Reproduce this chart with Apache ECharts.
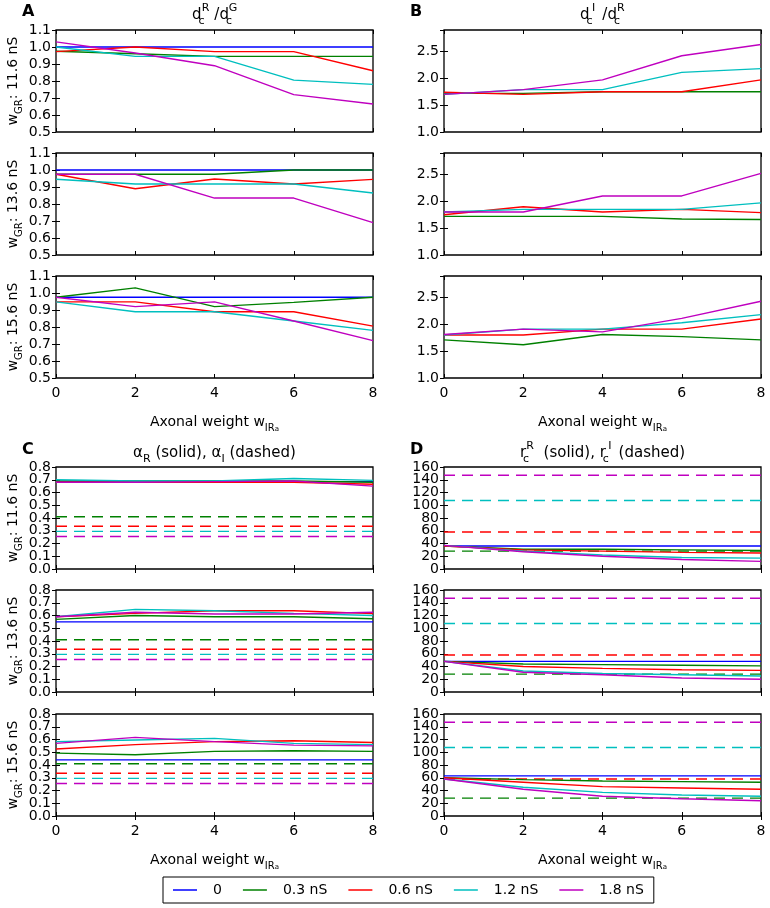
<!DOCTYPE html>
<html>
<head>
<meta charset="utf-8">
<script src="https://cdn.jsdelivr.net/npm/echarts@6/dist/echarts.min.js"></script>
<style>
  html, body { margin: 0; padding: 0; background: #fff; }
  #chart { width: 770px; height: 908px; }
</style>
</head>
<body>
<div id="chart"></div>
<script>
const FONT = '"DejaVu Sans", sans-serif';

const xs = [0, 2, 4, 6, 8];
const seriesNames = ['0', '0.3 nS', '0.6 nS', '1.2 nS', '1.8 nS'];
const seriesColors = ['#0000ff', '#008000', '#ff0000', '#00bfbf', '#bf00bf'];
const wGR = ['11.6', '13.6', '15.6'];

// A: d_c^R / d_c^G  (rows: 0, 0.3, 0.6, 1.2, 1.8 nS)
const dRG_116 = [
  [1.0, 1.0, 1.0, 1.0, 1.0],
  [0.975, 0.96, 0.945, 0.945, 0.945],
  [0.973, 1.0, 0.973, 0.973, 0.86],
  [1.0, 0.945, 0.945, 0.805, 0.78],
  [1.03, 0.965, 0.89, 0.72, 0.665]
];
const dRG_136 = [
  [1.0, 1.0, 1.0, 1.0, 1.0],
  [0.975, 0.975, 0.975, 1.0, 1.0],
  [0.975, 0.89, 0.947, 0.918, 0.945],
  [0.946, 0.918, 0.918, 0.918, 0.865],
  [0.975, 0.975, 0.835, 0.835, 0.69]
];
const dRG_156 = [
  [0.975, 0.975, 0.975, 0.975, 0.975],
  [0.975, 1.03, 0.92, 0.945, 0.975],
  [0.948, 0.948, 0.89, 0.89, 0.805],
  [0.948, 0.89, 0.89, 0.835, 0.78],
  [0.975, 0.92, 0.948, 0.835, 0.72]
];

// B: d_c^I / d_c^R  (no curve for w = 0)
const dIR_116 = [
  null,
  [1.72, 1.72, 1.75, 1.75, 1.75],
  [1.74, 1.70, 1.75, 1.75, 1.97],
  [1.70, 1.79, 1.79, 2.11, 2.18],
  [1.70, 1.79, 1.97, 2.42, 2.63]
];
const dIR_136 = [
  null,
  [1.72, 1.72, 1.72, 1.67, 1.66],
  [1.75, 1.90, 1.80, 1.85, 1.79],
  [1.80, 1.85, 1.85, 1.85, 1.97],
  [1.80, 1.80, 2.10, 2.10, 2.52]
];
const dIR_156 = [
  null,
  [1.71, 1.62, 1.81, 1.77, 1.71],
  [1.80, 1.80, 1.91, 1.91, 2.10],
  [1.80, 1.91, 1.91, 2.03, 2.18],
  [1.81, 1.91, 1.86, 2.11, 2.43]
];

// C: alpha_R (solid) and alpha_I (dashed, same in every row)
const alphaR_116 = [
  [0.685, 0.685, 0.685, 0.685, 0.685],
  [0.69, 0.69, 0.69, 0.69, 0.68],
  [0.68, 0.68, 0.68, 0.68, 0.665],
  [0.70, 0.69, 0.69, 0.71, 0.695],
  [0.68, 0.68, 0.685, 0.69, 0.65]
];
const alphaR_136 = [
  [0.55, 0.55, 0.55, 0.55, 0.55],
  [0.57, 0.60, 0.59, 0.59, 0.575],
  [0.59, 0.617, 0.637, 0.637, 0.615],
  [0.59, 0.648, 0.637, 0.617, 0.60],
  [0.59, 0.625, 0.612, 0.612, 0.625]
];
const alphaR_156 = [
  [0.44, 0.44, 0.44, 0.44, 0.44],
  [0.493, 0.48, 0.507, 0.512, 0.507],
  [0.525, 0.56, 0.583, 0.59, 0.577],
  [0.583, 0.596, 0.609, 0.57, 0.56],
  [0.57, 0.617, 0.583, 0.556, 0.55]
];
const alphaI = [null, 0.41, 0.335, 0.295, 0.255];

// D: r_c^R (solid) and r_c^I (dashed, same in every row)
const rcR_116 = [
  [36, 36, 36, 36, 36],
  [36, 31, 31, 30, 29],
  [36, 30, 28, 26, 25],
  [37, 28, 22, 18, 17],
  [37, 27, 20, 15, 12]
];
const rcR_136 = [
  [48, 48, 48, 48, 48],
  [48, 44, 43, 42, 41],
  [48, 40, 37, 35, 34],
  [48, 33, 29, 27, 25],
  [48, 31, 27, 22, 20]
];
const rcR_156 = [
  [63, 63, 63, 63, 63],
  [60, 57, 55, 54, 53],
  [60, 53, 46, 44, 42],
  [58, 45, 37, 33, 31],
  [58, 42, 31, 27, 24]
];
const rcI = [null, 28, 58, 107.5, 147];

// layout
const colLeft = [56, 444];
const plotW = 317;
const plotH = 102;
const topRows = [30, 153, 276];
const bottomRows = [467, 590, 714];

const rich = {
  n: { fontSize: 14, fontFamily: FONT, color: '#000', lineHeight: 22 },
  sb: { fontSize: 10, fontFamily: FONT, color: '#000', lineHeight: 12, verticalAlign: 'bottom' },
  ssb: { fontSize: 7, fontFamily: FONT, color: '#000', lineHeight: 6, verticalAlign: 'bottom' }
};

const panels = [];
[dRG_116, dRG_136, dRG_156].forEach((d, r) => panels.push({
  left: colLeft[0], top: topRows[r], min: 0.5, max: 1.1, step: 0.1, dec: 1,
  solid: d, dashed: null, ylab: wGR[r], xlab: r === 2
}));
[dIR_116, dIR_136, dIR_156].forEach((d, r) => panels.push({
  left: colLeft[1], top: topRows[r], min: 1.0, max: 2.9, step: 0.5, dec: 1,
  solid: d, dashed: null, ylab: null, xlab: r === 2
}));
[alphaR_116, alphaR_136, alphaR_156].forEach((d, r) => panels.push({
  left: colLeft[0], top: bottomRows[r], min: 0, max: 0.8, step: 0.1, dec: 1,
  solid: d, dashed: alphaI, ylab: wGR[r], xlab: r === 2
}));
[rcR_116, rcR_136, rcR_156].forEach((d, r) => panels.push({
  left: colLeft[1], top: bottomRows[r], min: 0, max: 160, step: 20, dec: 0,
  solid: d, dashed: rcI, ylab: null, xlab: r === 2
}));

const grid = [], xAxis = [], yAxis = [], series = [];
const tickStyle = { show: true, inside: true, length: 4, lineStyle: { color: '#000', width: 1 } };
const labelFont = { fontFamily: FONT, fontSize: 14, color: '#000' };

panels.forEach((p, g) => {
  const isEnd = v => Math.abs(v - p.min) < 1e-9 || Math.abs(v - p.max) < 1e-9;
  grid.push({
    left: p.left, top: p.top, width: plotW, height: plotH,
    show: true, borderColor: '#000', borderWidth: 1.3, backgroundColor: 'transparent'
  });
  xAxis.push({
    type: 'value', gridIndex: g, position: 'bottom', min: 0, max: 8, interval: 2,
    axisLine: { show: false }, splitLine: { show: false }, axisTick: tickStyle,
    axisLabel: Object.assign({ show: p.xlab, margin: 8, showMinLabel: true, showMaxLabel: true }, labelFont),
    name: p.xlab ? '{n|Axonal weight w}{sb|IR}{ssb|a}' : '',
    nameLocation: 'middle', nameGap: 33,
    nameTextStyle: { rich: rich }
  });
  xAxis.push({
    type: 'value', gridIndex: g, position: 'top', min: 0, max: 8, interval: 2,
    axisLine: { show: false }, splitLine: { show: false }, axisTick: tickStyle,
    axisLabel: { show: false }
  });
  // left axis: inner tick labels
  yAxis.push({
    type: 'value', gridIndex: g, position: 'left', min: p.min, max: p.max, interval: p.step,
    axisLine: { show: false }, splitLine: { show: false }, axisTick: tickStyle,
    axisLabel: Object.assign({
      margin: 5, showMinLabel: false, showMaxLabel: false,
      formatter: v => isEnd(v) ? '' : v.toFixed(p.dec)
    }, labelFont),
    name: p.ylab ? '{n|w}{sb|GR}{n|: ' + p.ylab + ' nS}' : '',
    nameLocation: 'middle', nameRotate: 90, nameGap: 24,
    nameTextStyle: { rich: rich }
  });
  // right axis: ticks, plus the end labels drawn back on the left side
  yAxis.push({
    type: 'value', gridIndex: g, position: 'right', min: p.min, max: p.max, interval: p.step,
    axisLine: { show: false }, splitLine: { show: false }, axisTick: tickStyle,
    axisLabel: Object.assign({
      margin: -(plotW + 5), align: 'right', showMinLabel: true, showMaxLabel: true,
      formatter: v => (isEnd(v) && p.max !== 2.9) || Math.abs(v - p.min) < 1e-9 ? v.toFixed(p.dec) : ''
    }, labelFont)
  });
  p.solid.forEach((row, k) => {
    if (!row) return;
    series.push({
      type: 'line', name: seriesNames[k], xAxisIndex: 2 * g, yAxisIndex: 2 * g,
      data: xs.map((x, i) => [x, row[i]]), symbol: 'none', silent: true,
      lineStyle: { color: seriesColors[k], width: 1.4 }, itemStyle: { color: seriesColors[k] },
      z: 3 + k
    });
  });
  if (p.dashed) {
    p.dashed.forEach((v, k) => {
      if (v == null) return;
      series.push({
        type: 'line', name: seriesNames[k], xAxisIndex: 2 * g, yAxisIndex: 2 * g,
        data: xs.map(x => [x, v]), symbol: 'none', silent: true,
        lineStyle: { color: seriesColors[k], width: 1.4, type: [11, 7] },
        itemStyle: { color: seriesColors[k] }, z: 2
      });
    });
  }
});

const gr = {
  tn: { fontSize: 15, fontFamily: FONT, fill: '#000', lineHeight: 24 },
  tsb: { fontSize: 11, fontFamily: FONT, fill: '#000', lineHeight: 13, verticalAlign: 'bottom' },
  tsb0: { fontSize: 11, fontFamily: FONT, fill: '#000', lineHeight: 13, verticalAlign: 'bottom', width: 0 },
  tsp: { fontSize: 11, fontFamily: FONT, fill: '#000', lineHeight: 13, verticalAlign: 'top', width: 8 }
};
function title(x, y, text) {
  return { type: 'text', x: x, y: y, style: { text: text, rich: gr, align: 'center', verticalAlign: 'middle' } };
}
function letter(x, y, t) {
  return { type: 'text', x: x, y: y, style: { text: t, font: 'bold 16px ' + FONT, fill: '#000' } };
}

const graphic = [
  letter(22, 4, 'A'), letter(410, 4, 'B'), letter(22, 442, 'C'), letter(410, 442, 'D'),
  title(colLeft[0] + plotW / 2, 15, '{tn|d}{tsb0|c}{tsp|R}{tn| /d}{tsb0|c}{tsp|G}'),
  title(colLeft[1] + plotW / 2, 15, '{tn|d}{tsb0|c}{tsp|I}{tn| /d}{tsb0|c}{tsp|R}'),
  title(colLeft[0] + plotW / 2, 453, '{tn|α}{tsb|R}{tn| (solid), α}{tsb|I}{tn| (dashed)}'),
  title(colLeft[1] + plotW / 2, 453, '{tn|r}{tsb0|c}{tsp|R}{tn|  (solid), r}{tsb0|c}{tsp|I}{tn| (dashed)}')
];

const chart = echarts.init(document.getElementById('chart'), null, { renderer: 'canvas' });
chart.setOption({
  animation: false,
  backgroundColor: '#fff',
  grid: grid,
  xAxis: xAxis,
  yAxis: yAxis,
  series: series,
  graphic: graphic,
  legend: {
    data: seriesNames,
    left: 163, top: 877,
    icon: 'rect', itemWidth: 24, itemHeight: 1.5, itemGap: 21,
    padding: [6, 10, 6, 10],
    borderColor: '#000', borderWidth: 1,
    selectedMode: false,
    textStyle: { fontFamily: FONT, fontSize: 14, color: '#000', padding: [0, 0, 0, 11] }
  }
});
</script>
</body>
</html>
